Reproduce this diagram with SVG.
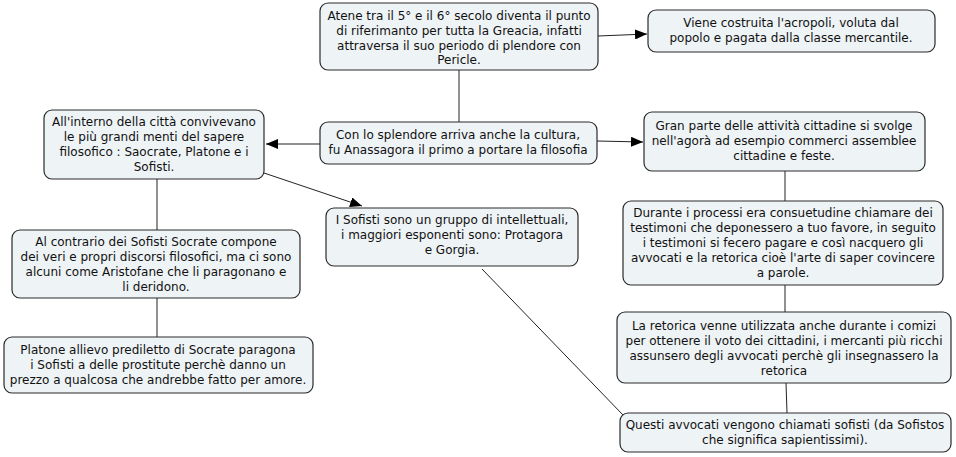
<svg xmlns="http://www.w3.org/2000/svg" width="956" height="457" viewBox="0 0 956 457">
<style>
.n rect{fill:#eef3f6;stroke:#2b2b2b;stroke-width:1.2}
text{font-family:"DejaVu Sans",Verdana,sans-serif;font-size:12px;fill:#111;text-anchor:middle}
.c line{stroke:#222;stroke-width:1}
</style>
<defs>
<marker id="a" viewBox="0 0 12 10" refX="12" refY="5" markerWidth="12" markerHeight="10" markerUnits="userSpaceOnUse" orient="auto"><path d="M0,0L12,5L0,10z" fill="#000"/></marker>
</defs>
<rect width="956" height="457" fill="#fff"/>
<g class="c">
<line x1="459" y1="70" x2="459" y2="122"/>
<line x1="598" y1="36" x2="647" y2="34" marker-end="url(#a)"/>
<line x1="320" y1="144" x2="266" y2="144" marker-end="url(#a)"/>
<line x1="597" y1="141" x2="643" y2="142" marker-end="url(#a)"/>
<line x1="264" y1="173" x2="362" y2="206" marker-end="url(#a)"/>
<line x1="157" y1="179" x2="157" y2="230"/>
<line x1="157" y1="298" x2="157" y2="337"/>
<line x1="785" y1="171" x2="785" y2="201"/>
<line x1="785" y1="285" x2="785" y2="312"/>
<line x1="786" y1="383" x2="787" y2="413"/>
<line x1="482" y1="269" x2="623" y2="415"/>
</g>
<g id="n1" class="n"><rect x="320" y="3" width="278" height="67" rx="8"/>
<text x="459" y="20">Atene tra il 5° e il 6° secolo diventa il punto</text>
<text x="459" y="35">di riferimanto per tutta la Greacia, infatti</text>
<text x="459" y="50">attraversa il suo periodo di plendore con</text>
<text x="459" y="64">Pericle.</text></g>
<g id="n2" class="n"><rect x="648" y="10" width="287" height="42" rx="8"/>
<text x="791" y="27">Viene costruita l'acropoli, voluta dal</text>
<text x="791" y="42">popolo e pagata dalla classe mercantile.</text></g>
<g id="n3" class="n"><rect x="320" y="122" width="277" height="42" rx="8"/>
<text x="458" y="139">Con lo splendore arriva anche la cultura,</text>
<text x="458" y="154">fu Anassagora il primo a portare la filosofia</text></g>
<g id="n4" class="n"><rect x="44" y="110" width="220" height="69" rx="8"/>
<text x="154" y="126">All'interno della città convivevano</text>
<text x="154" y="141">le più grandi menti del sapere</text>
<text x="154" y="156">filosofico : Saocrate, Platone e i</text>
<text x="154" y="171">Sofisti.</text></g>
<g id="n5" class="n"><rect x="644" y="112" width="281" height="59" rx="8"/>
<text x="784" y="130">Gran parte delle attività cittadine si svolge</text>
<text x="784" y="145">nell'agorà ad esempio commerci assemblee</text>
<text x="784" y="160">cittadine e feste.</text></g>
<g id="n6" class="n"><rect x="326" y="208" width="252" height="58" rx="8"/>
<text x="452" y="224">I Sofisti sono un gruppo di intellettuali,</text>
<text x="452" y="239">i maggiori esponenti sono: Protagora</text>
<text x="452" y="254">e Gorgia.</text></g>
<g id="n7" class="n"><rect x="12" y="230" width="288" height="68" rx="8"/>
<text x="156" y="246">Al contrario dei Sofisti Socrate compone</text>
<text x="156" y="261">dei veri e propri discorsi filosofici, ma ci sono</text>
<text x="156" y="276">alcuni come Aristofane che li paragonano e</text>
<text x="156" y="291">li deridono.</text></g>
<g id="n8" class="n"><rect x="4" y="337" width="309" height="56" rx="8"/>
<text x="158" y="354">Platone allievo prediletto di Socrate paragona</text>
<text x="158" y="369">i Sofisti a delle prostitute perchè danno un</text>
<text x="158" y="384">prezzo a qualcosa che andrebbe fatto per amore.</text></g>
<g id="n9" class="n"><rect x="623" y="201" width="320" height="84" rx="8"/>
<text x="783" y="217">Durante i processi era consuetudine chiamare dei</text>
<text x="783" y="232">testimoni che deponessero a tuo favore, in seguito</text>
<text x="783" y="247">i testimoni si fecero pagare e così nacquero gli</text>
<text x="783" y="262">avvocati e la retorica cioè l'arte di saper covincere</text>
<text x="783" y="277">a parole.</text></g>
<g id="n10" class="n"><rect x="617" y="312" width="334" height="71" rx="8"/>
<text x="784" y="330">La retorica venne utilizzata anche durante i comizi</text>
<text x="784" y="345">per ottenere il voto dei cittadini, i mercanti più ricchi</text>
<text x="784" y="360">assunsero degli avvocati perchè gli insegnassero la</text>
<text x="784" y="375">retorica</text></g>
<g id="n11" class="n"><rect x="620" y="413" width="331" height="39" rx="8"/>
<text x="785" y="429">Questi avvocati vengono chiamati sofisti (da Sofistos</text>
<text x="785" y="444">che significa sapientissimi).</text></g>
</svg>
